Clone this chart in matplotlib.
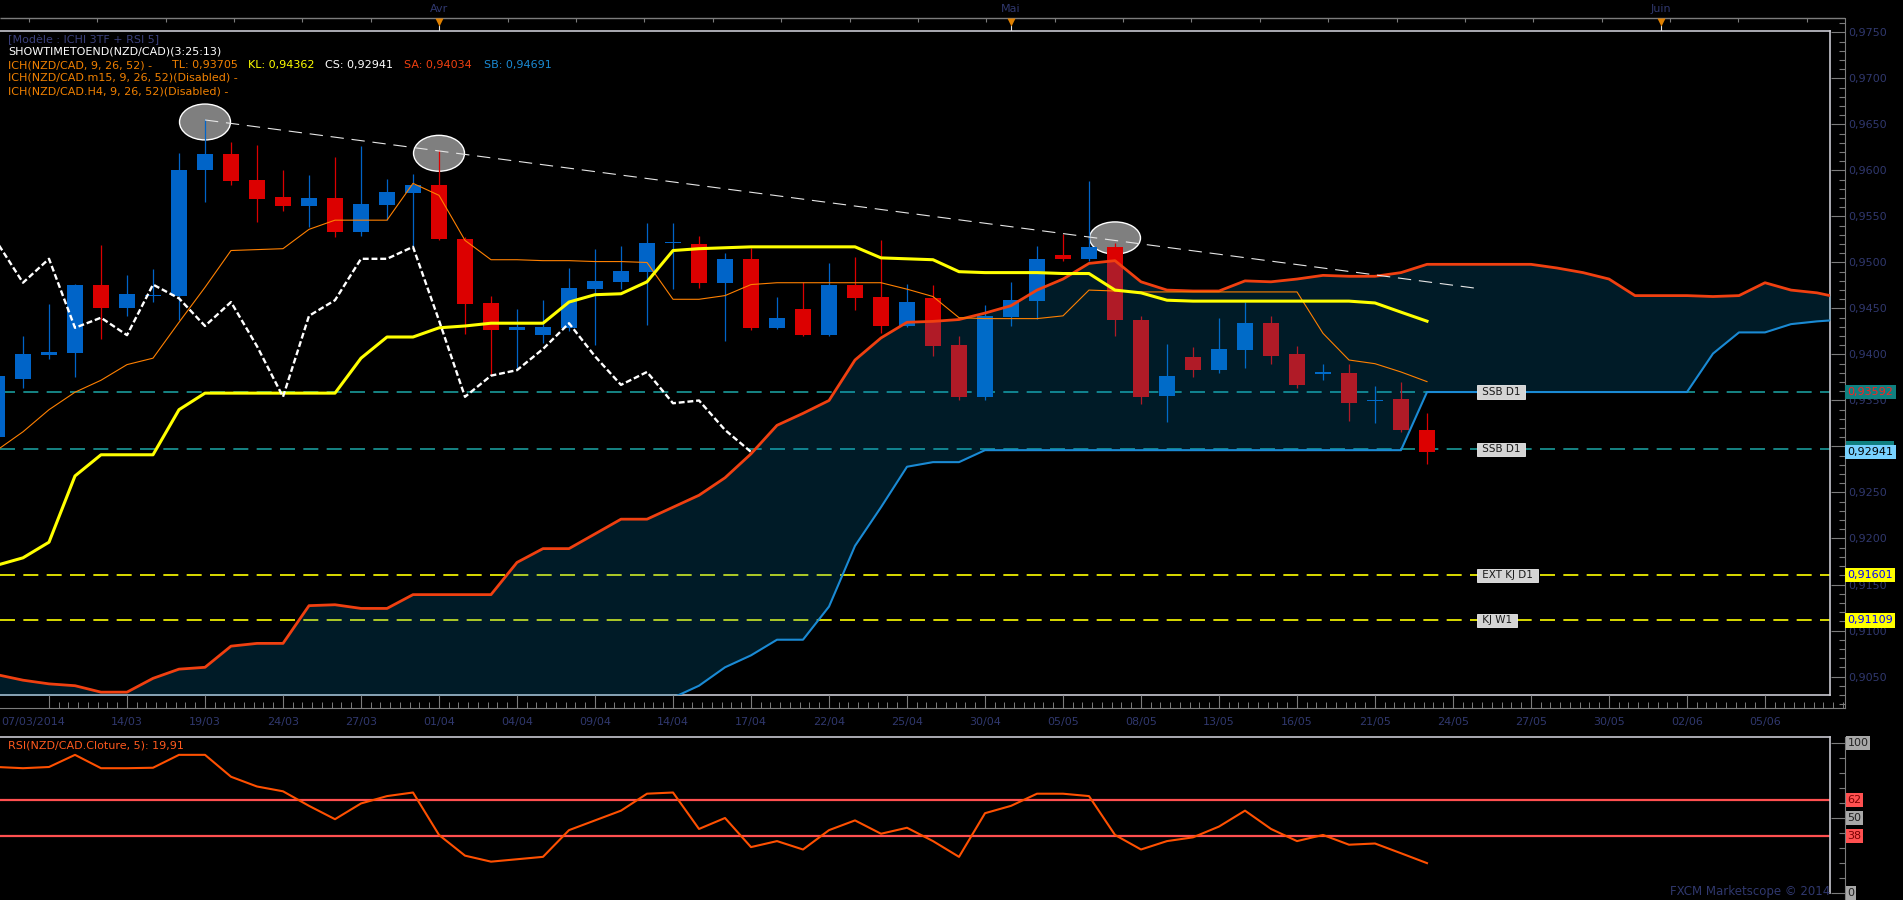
import numpy as np
import matplotlib
matplotlib.use("Agg")
import matplotlib.pyplot as plt
from matplotlib.patches import Ellipse, Rectangle
from matplotlib.ticker import MultipleLocator, FuncFormatter, FixedLocator
from matplotlib.transforms import blended_transform_factory

W, H = 1903, 900

# daily candles, index 0 = 07/03/2014 ... index 55 = 23/05/2014
opens = [0.9310, 0.9373, 0.9399, 0.9402, 0.9475, 0.9450, 0.9464, 0.9464, 0.9600, 0.9618,
         0.9590, 0.9571, 0.9561, 0.9570, 0.9533, 0.9562, 0.9576, 0.9584, 0.9526, 0.9456,
         0.9427, 0.9421, 0.9429, 0.9471, 0.9479, 0.9490, 0.9521, 0.9520, 0.9478, 0.9504,
         0.9429, 0.9449, 0.9421, 0.9476, 0.9462, 0.9431, 0.9461, 0.9410, 0.9354, 0.9441,
         0.9458, 0.9508, 0.9504, 0.9517, 0.9438, 0.9355, 0.9397, 0.9383, 0.9405, 0.9434,
         0.9400, 0.9379, 0.9380, 0.9349, 0.9352, 0.9318]
highs = [0.9385, 0.9420, 0.9455, 0.9477, 0.9519, 0.9486, 0.9493, 0.9619, 0.9656, 0.9631,
         0.9628, 0.9600, 0.9595, 0.9615, 0.9627, 0.9591, 0.9596, 0.9622, 0.9528, 0.9464,
         0.9449, 0.9459, 0.9494, 0.9515, 0.9518, 0.9543, 0.9543, 0.9529, 0.9510, 0.9516,
         0.9463, 0.9479, 0.9499, 0.9506, 0.9524, 0.9477, 0.9475, 0.9420, 0.9454, 0.9479,
         0.9518, 0.9531, 0.9589, 0.9521, 0.9442, 0.9411, 0.9408, 0.9440, 0.9457, 0.9442,
         0.9409, 0.9390, 0.9390, 0.9366, 0.9370, 0.9336]
lows = [0.9300, 0.9364, 0.9395, 0.9375, 0.9417, 0.9442, 0.9457, 0.9438, 0.9566, 0.9584,
        0.9544, 0.9556, 0.9539, 0.9528, 0.9529, 0.9546, 0.9517, 0.9524, 0.9422, 0.9378,
        0.9384, 0.9412, 0.9426, 0.9410, 0.9471, 0.9432, 0.9471, 0.9472, 0.9415, 0.9427,
        0.9428, 0.9420, 0.9420, 0.9448, 0.9423, 0.9430, 0.9398, 0.9351, 0.9350, 0.9431,
        0.9439, 0.9502, 0.9502, 0.9420, 0.9346, 0.9327, 0.9376, 0.9380, 0.9385, 0.9390,
        0.9364, 0.9372, 0.9328, 0.9326, 0.9316, 0.9281]
closes = [0.9377, 0.9401, 0.9403, 0.9475, 0.9450, 0.9466, 0.9465, 0.9601, 0.9618, 0.9589,
          0.9569, 0.9561, 0.9570, 0.9533, 0.9564, 0.9577, 0.9584, 0.9526, 0.9455, 0.9427,
          0.9430, 0.9430, 0.9472, 0.9480, 0.9491, 0.9521, 0.9522, 0.9478, 0.9504, 0.9429,
          0.9440, 0.9421, 0.9476, 0.9461, 0.9431, 0.9457, 0.9409, 0.9354, 0.9442, 0.9459,
          0.9504, 0.9504, 0.9517, 0.9437, 0.9354, 0.9377, 0.9383, 0.9406, 0.9434, 0.9398,
          0.9367, 0.9381, 0.9347, 0.9350, 0.9318, 0.92941]

tenkan = [0.9296, 0.9316, 0.9340, 0.9359, 0.9372, 0.9389, 0.9396, 0.9435, 0.9473, 0.9513,
          0.9514, 0.9515, 0.9536, 0.9546, 0.9546, 0.9546, 0.9586, 0.9573, 0.9524, 0.9503,
          0.9503, 0.9502, 0.9502, 0.9501, 0.9501, 0.9500, 0.9460, 0.9460, 0.9464, 0.9476,
          0.9478, 0.9478, 0.9478, 0.9478, 0.9478, 0.9471, 0.9463, 0.9440, 0.9439, 0.9439,
          0.9439, 0.9442, 0.9470, 0.9469, 0.9468, 0.9468, 0.9468, 0.9468, 0.9468, 0.9468,
          0.9468, 0.9423, 0.9394, 0.9390, 0.9381, 0.93705]
kijun = [0.9171, 0.9179, 0.9196, 0.9268, 0.9291, 0.9291, 0.9291, 0.9340, 0.9358, 0.9358,
         0.9358, 0.9358, 0.9358, 0.9358, 0.9396, 0.9419, 0.9419, 0.9429, 0.9431, 0.9434,
         0.9434, 0.9434, 0.9457, 0.9465, 0.9466, 0.9479, 0.9513, 0.9515, 0.9516, 0.9517,
         0.9517, 0.9517, 0.9517, 0.9517, 0.9505, 0.9504, 0.9503, 0.9490, 0.9489, 0.9489,
         0.9489, 0.9488, 0.9488, 0.9470, 0.9467, 0.9459, 0.9458, 0.9458, 0.9458, 0.9458,
         0.9458, 0.9458, 0.9458, 0.9456, 0.9446, 0.94362]
# senkou spans, already displaced 26 bars ahead (index 0 .. 71)
senkou_a = [0.9052, 0.9046, 0.9042, 0.9040, 0.9033, 0.9033, 0.9048, 0.9058, 0.9060, 0.9083,
            0.9086, 0.9086, 0.9127, 0.9128, 0.9124, 0.9124, 0.9139, 0.9139, 0.9139, 0.9139,
            0.9174, 0.9189, 0.9189, 0.9205, 0.9221, 0.9221, 0.9234, 0.9247, 0.9266, 0.9292,
            0.9323, 0.9336, 0.9350, 0.9394, 0.9418, 0.9435, 0.9436, 0.9438, 0.9445, 0.9453,
            0.9470, 0.9482, 0.9499, 0.9502, 0.9479, 0.9470, 0.9469, 0.9469, 0.9480, 0.9479,
            0.9482, 0.9486, 0.9485, 0.9485, 0.9489, 0.9498, 0.9498, 0.9498, 0.9498, 0.9498,
            0.9494, 0.9489, 0.9482, 0.9464, 0.9464, 0.9464, 0.9463, 0.9464, 0.9478, 0.9470,
            0.9467, 0.9461]
senkou_b = [0.8972, 0.8972, 0.8972, 0.8972, 0.8972, 0.8972, 0.8972, 0.8972, 0.8972, 0.8972,
            0.8985, 0.8985, 0.8985, 0.8985, 0.8985, 0.8985, 0.8985, 0.8985, 0.8985, 0.8985,
            0.8998, 0.8998, 0.8998, 0.8998, 0.9003, 0.9012, 0.9027, 0.9040, 0.9060, 0.9073,
            0.9090, 0.9090, 0.9126, 0.9192, 0.9234, 0.9278, 0.9283, 0.9283, 0.9296, 0.9296,
            0.9296, 0.9296, 0.9296, 0.9296, 0.9296, 0.9296, 0.9296, 0.9296, 0.9296, 0.9296,
            0.9296, 0.9296, 0.9296, 0.9296, 0.9296, 0.93592, 0.93592, 0.93592, 0.93592, 0.93592,
            0.93592, 0.93592, 0.93592, 0.93592, 0.93592, 0.93592, 0.9401, 0.9424, 0.9424, 0.9433,
            0.9436, 0.9438]

rsi = [84.0, 83.2, 84.0, 92.1, 83.2, 83.2, 83.5, 92.1, 92.1, 77.5,
       71.0, 67.8, 58.1, 49.2, 59.7, 64.6, 67.0, 38.7, 24.9, 20.9,
       22.5, 24.1, 41.9, 48.4, 54.9, 66.2, 67.0, 42.7, 50.0, 30.6,
       34.6, 29.0, 41.9, 48.4, 39.5, 43.5, 34.6, 24.1, 53.2, 58.1,
       66.2, 66.2, 64.6, 38.7, 29.0, 34.6, 37.1, 44.3, 54.9, 42.7,
       34.6, 38.7, 32.2, 33.0, 26.5, 19.91]
rsi_levels = [62, 38]

# drawn objects
level_values = [0.93592, 0.9297, 0.91601, 0.91109]
level_names = ["SSB D1", "SSB D1", "EXT KJ D1", "KJ W1"]
level_colors = ["#1a9a9a", "#1a9a9a", "#ffff00", "#ffff00"]
trend_x = [8.0, 56.8]
trend_y = [0.96549, 0.94723]
circle_x = [8.0, 17.0, 43.0]
circle_y = [0.96527, 0.96187, 0.95266]
circle_h = [0.0039, 0.0039, 0.0035]

x_label_idx = [5, 8, 11, 14, 17, 20, 23, 26, 29, 32, 35, 38, 41, 44, 47, 50, 53, 56, 59, 62, 65, 68]
x_labels = ["14/03", "19/03", "24/03", "27/03", "01/04", "04/04", "09/04", "14/04", "17/04",
            "22/04", "25/04", "30/04", "05/05", "08/05", "13/05", "16/05", "21/05", "24/05",
            "27/05", "30/05", "02/06", "05/06"]
month_idx = [17, 39, 64]
month_labels = ["Avr", "Mai", "Juin"]

AXIS_TXT = "#30386e"
BORDER = "#c8c8d0"
GRID_TICK = "#7c7c7c"
BLUE = "#0064c8"
RED = "#dc0000"

# pixel layout: bar i sits at x = -3 + 26 * i
X_LEFT = 3 / 26
X_RIGHT = 1833 / 26
X_AXIS = 1848 / 26
P_LOW, P_HIGH = 0.90299, 0.97516


def box(x0, y0, x1, y1):
    """Pixel box (origin top-left) to figure rect."""
    return [x0 / W, 1 - y1 / H, (x1 - x0) / W, (y1 - y0) / H]


def fmt_price(v, decimals=4):
    return f"{v:.{decimals}f}".replace(".", ",")


def draw_price(fig):
    ax = fig.add_axes(box(0, 31, 1830, 695))
    ax.set_facecolor("black")
    ax.set_xlim(X_LEFT, X_RIGHT)
    ax.set_ylim(P_LOW, P_HIGH)
    ax.set_xticks([])
    ax.set_yticks([])
    ax.spines["left"].set_visible(False)
    for s in ("top", "right", "bottom"):
        ax.spines[s].set_color(BORDER)
        ax.spines[s].set_linewidth(1.2)

    # levels
    for v, name, col in zip(level_values, level_names, level_colors):
        ax.axhline(v, color=col, lw=1.2, ls=(0, (9, 5)), zorder=2)
        ax.text(57.0, v, " " + name + " ", ha="left", va="center", fontsize=7.5,
                color="#1a1a1a", zorder=9,
                bbox=dict(boxstyle="square,pad=0.15", fc="#d4d4d4", ec="#eeeeee", lw=0.6))

    # circled highs
    for cx, cy, ch in zip(circle_x, circle_y, circle_h):
        ax.add_patch(Ellipse((cx, cy), 1.96, ch, fc="#7f7f7f", ec="white", lw=1.0, zorder=2.5))

    # candles
    o, h, l, c = (np.array(a) for a in (opens, highs, lows, closes))
    idx = np.arange(len(c))
    cols = np.where(c >= o, BLUE, RED)
    ax.vlines(idx, l, h, colors=cols, lw=0.9, zorder=3)
    ax.bar(idx, np.maximum(np.abs(c - o), 0.00012), bottom=np.minimum(o, c), width=0.65,
           color=cols, lw=0, zorder=3)

    # kumo
    xk = np.arange(len(senkou_a))
    ax.fill_between(xk, senkou_a, senkou_b, color="#008cc8", alpha=0.2, lw=0, zorder=4)
    ax.plot(xk, senkou_b, color="#1a8ad4", lw=1.5, zorder=5)
    ax.plot(xk, senkou_a, color="#f04010", lw=2.0, zorder=5)

    ax.plot(idx, tenkan, color="#ff8000", lw=0.8, zorder=6)
    ax.plot(idx, kijun, color="#ffff00", lw=2.2, zorder=6)
    chikou = closes[26:]
    ax.plot(np.arange(len(chikou)), chikou, color="white", lw=1.7, ls=(0, (2.5, 1.2)), zorder=6)

    ax.plot(trend_x, trend_y, color="#e6e6e6", lw=0.8, ls=(0, (12, 7)), zorder=7)
    return ax


def draw_price_axis(fig):
    axp = fig.add_axes(box(1845, 18, 1845.4, 708))
    axp.set_facecolor("none")
    top = P_HIGH + (31 - 18) / 9200
    bottom = P_LOW - (708 - 695) / 9200
    axp.set_ylim(bottom, top)
    axp.set_xticks([])
    for s in ("left", "top", "bottom"):
        axp.spines[s].set_visible(False)
    axp.spines["right"].set_color(GRID_TICK)
    axp.yaxis.tick_right()
    axp.yaxis.set_major_locator(MultipleLocator(0.005))
    axp.yaxis.set_minor_locator(MultipleLocator(0.001))
    axp.yaxis.set_major_formatter(FuncFormatter(lambda v, p: fmt_price(v)))
    axp.tick_params(axis="y", which="both", direction="in", colors=GRID_TICK,
                    labelcolor=AXIS_TXT, labelsize=8, pad=2)
    axp.tick_params(axis="y", which="major", length=10, width=0.8)
    axp.tick_params(axis="y", which="minor", length=4.5, width=0.8)

    tr = blended_transform_factory(fig.transFigure, axp.transData)
    # the lower SSB tag sits mostly hidden behind the current price tag
    axp.add_patch(Rectangle((1846 / W, level_values[1] - 0.00087), 48 / W, 0.00174,
                            transform=tr, fc="#108080", ec="none", clip_on=False, zorder=9))
    tags = [(level_values[0], "#ff2020", "#108080"),
            (closes[-1], "#000000", "#78d2ff"),
            (level_values[2], "#0000ff", "#ffff00"),
            (level_values[3], "#0000ff", "#ffff00")]
    for v, fg, bg in tags:
        axp.text(1847.5 / W, v, fmt_price(v, 5), transform=tr, ha="left", va="center",
                 fontsize=8, color=fg, zorder=10,
                 bbox=dict(boxstyle="square,pad=0.2", fc=bg, ec="none"))


def draw_time_strips(fig):
    # bottom date strip
    axs = fig.add_axes(box(0, 695, 1845, 708))
    axs.set_facecolor("none")
    axs.set_xlim(X_LEFT, X_AXIS)
    axs.set_yticks([])
    for s in ("left", "top", "right"):
        axs.spines[s].set_visible(False)
    axs.spines["bottom"].set_color(GRID_TICK)
    axs.xaxis.set_major_locator(FixedLocator([2] + x_label_idx))
    axs.set_xticklabels([""] + x_labels)
    axs.xaxis.set_minor_locator(FixedLocator(np.arange(2, X_AXIS, 0.375)))
    axs.tick_params(axis="x", which="both", direction="in", colors=GRID_TICK,
                    labelcolor=AXIS_TXT, labelsize=8, pad=6.5)
    axs.tick_params(axis="x", which="major", length=9.4, width=0.8)
    axs.tick_params(axis="x", which="minor", length=4.0, width=0.7)
    fig.text(1 / W, 1 - 722 / H, "07/03/2014", ha="left", va="center", fontsize=8,
             color=AXIS_TXT)

    # top month strip
    axt = fig.add_axes(box(0, 0, 1845, 31))
    axt.set_xlim(X_LEFT, X_AXIS)
    axt.set_ylim(31, 0)
    axt.axis("off")
    axt.hlines(18, X_LEFT, X_AXIS, color=GRID_TICK, lw=1.0)
    axt.vlines(np.arange(1.23, X_AXIS, 2.63), 18, 22, color=GRID_TICK, lw=0.8)
    axt.vlines(month_idx, 25, 31, color="#e0e0e0", lw=0.8)
    axt.scatter(month_idx, [21.5] * len(month_idx), marker="v", s=34, color="#e08000",
                lw=0, zorder=3)
    for mx, name in zip(month_idx, month_labels):
        axt.text(mx, 9, name, ha="center", va="center", fontsize=8, color=AXIS_TXT)


def draw_rsi(fig):
    axr = fig.add_axes(box(0, 737, 1830, 893))
    axr.set_facecolor("black")
    axr.set_xlim(X_LEFT, X_RIGHT)
    axr.set_ylim(0, 104)
    axr.set_xticks([])
    axr.set_yticks([])
    for s in ("left", "bottom"):
        axr.spines[s].set_visible(False)
    for s in ("top", "right"):
        axr.spines[s].set_color(BORDER)
        axr.spines[s].set_linewidth(1.2)
    for lv in rsi_levels:
        axr.axhline(lv, color="#ff5050", lw=1.6, zorder=2)
    axr.plot(np.arange(len(rsi)), rsi, color="#ff5000", lw=1.5, zorder=3)

    # scale
    axs = fig.add_axes(box(1845, 737, 1845.4, 900))
    axs.set_facecolor("none")
    axs.set_ylim(-4.67, 104)
    axs.set_xticks([])
    for s in ("left", "top", "bottom"):
        axs.spines[s].set_visible(False)
    axs.spines["right"].set_color(GRID_TICK)
    axs.yaxis.tick_right()
    axs.yaxis.set_major_locator(FixedLocator([0, 50, 100]))
    axs.yaxis.set_minor_locator(MultipleLocator(10))
    axs.tick_params(axis="y", which="both", direction="in", colors=GRID_TICK, labelright=False)
    axs.tick_params(axis="y", which="major", length=10, width=0.8)
    axs.tick_params(axis="y", which="minor", length=4.5, width=0.8)
    tr = blended_transform_factory(fig.transFigure, axs.transData)
    for v in (100, 50, 0):
        axs.text(1847.5 / W, v, str(v), transform=tr, ha="left", va="center", fontsize=8,
                 color="#202020", bbox=dict(boxstyle="square,pad=0.15", fc="#a8a8a8", ec="none"))
    for v in rsi_levels:
        axs.text(1847.5 / W, v, str(v), transform=tr, ha="left", va="center", fontsize=8,
                 color="#7a0000", bbox=dict(boxstyle="square,pad=0.15", fc="#ff5050", ec="none"))


def draw_texts(fig):
    def put(x, y, s, col):
        fig.text(x / W, 1 - y / H, s, ha="left", va="center", fontsize=8, color=col)

    put(8, 40, "[Modèle : ICHI 3TF + RSI 5]", "#3a3f7a")
    put(8, 52, "SHOWTIMETOEND(NZD/CAD)(3:25:13)", "white")
    put(8, 65, "ICH(NZD/CAD, 9, 26, 52) -", "#f08000")
    put(172, 65, "TL: " + fmt_price(tenkan[-1], 5), "#f08000")
    put(248, 65, "KL: " + fmt_price(kijun[-1], 5), "#ffff00")
    put(325, 65, "CS: " + fmt_price(closes[-1], 5), "white")
    put(404, 65, "SA: 0,94034", "#f04010")
    put(484, 65, "SB: 0,94691", "#1a8ad4")
    put(8, 78, "ICH(NZD/CAD.m15, 9, 26, 52)(Disabled) -", "#f08000")
    put(8, 91, "ICH(NZD/CAD.H4, 9, 26, 52)(Disabled) -", "#f08000")
    put(8, 745, "RSI(NZD/CAD.Cloture, 5): " + fmt_price(rsi[-1], 2), "#ff5a1e")
    fig.text(1830 / W, 1 - 892 / H, "FXCM Marketscope © 2014", ha="right", va="center",
             fontsize=8.5, color=AXIS_TXT)


def main():
    fig = plt.figure(figsize=(W / 100, H / 100), dpi=100, facecolor="black")
    draw_price(fig)
    draw_price_axis(fig)
    draw_time_strips(fig)
    draw_rsi(fig)
    draw_texts(fig)
    fig.savefig("out.png", dpi=100, facecolor="black")


if __name__ == "__main__":
    main()
